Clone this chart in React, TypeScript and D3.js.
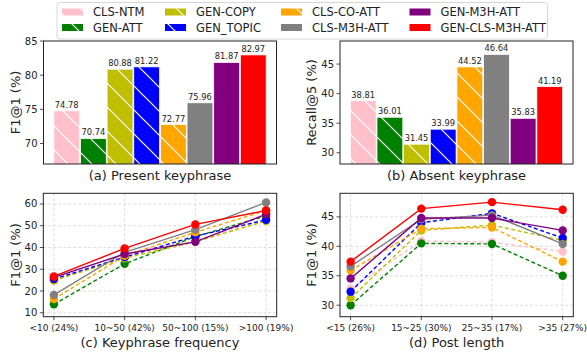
import React from "react";
import * as d3 from "d3";

const models = ["CLS-NTM", "GEN-ATT", "GEN-COPY", "GEN_TOPIC", "CLS-CO-ATT", "CLS-M3H-ATT", "GEN-M3H-ATT", "GEN-CLS-M3H-ATT"];
const colors = ["#FFC0CB", "#008000", "#BFBF00", "#0000FF", "#FFA500", "#808080", "#800080", "#FF0000"];
const hatched = [true, true, true, true, true, false, false, false];

const presentF1 = [74.78, 70.74, 80.88, 81.22, 72.77, 75.96, 81.87, 82.97];
const absentR5 = [38.81, 36.01, 31.45, 33.99, 44.52, 46.64, 35.83, 41.19];

const freqLabels = ["<10 (24%)", "10~50 (42%)", "50~100 (15%)", ">100 (19%)"];
const freqCLSNTM = [25.0, 35.6, 43.2, 52.6];
const freqGENATT = [13.9, 32.5, 45.0, 54.5];
const freqGENCOPY = [24.8, 35.1, 42.6, 52.2];
const freqGENTOPIC = [25.5, 35.6, 45.2, 52.7];
const freqCLSCOATT = [16.3, 36.2, 47.0, 57.0];
const freqCLSM3H = [18.2, 37.8, 48.2, 60.7];
const freqGENM3H = [26.3, 37.0, 42.6, 55.3];
const freqGENCLSM3H = [26.7, 39.6, 50.6, 57.0];

const lenLabels = ["<15 (26%)", "15~25 (30%)", "25~35 (17%)", ">35 (27%)"];
const lenCLSNTM = [32.8, 40.9, 40.7, 39.1];
const lenGENATT = [30.0, 40.5, 40.4, 35.0];
const lenGENCOPY = [31.2, 42.7, 43.6, 41.0];
const lenGENTOPIC = [32.3, 44.0, 45.6, 41.4];
const lenCLSCOATT = [35.9, 43.0, 43.2, 37.4];
const lenCLSM3H = [36.6, 44.6, 45.3, 40.4];
const lenGENM3H = [34.55, 44.8, 44.8, 42.7];
const lenGENCLSM3H = [37.4, 46.4, 47.5, 46.2];

const freqSeries = [freqCLSNTM, freqGENATT, freqGENCOPY, freqGENTOPIC, freqCLSCOATT, freqCLSM3H, freqGENM3H, freqGENCLSM3H];
const lenSeries = [lenCLSNTM, lenGENATT, lenGENCOPY, lenGENTOPIC, lenCLSCOATT, lenCLSM3H, lenGENM3H, lenGENCLSM3H];

const presentTicks = [70, 75, 80, 85];
const absentTicks = [30, 35, 40, 45];
const freqTicks = [10, 20, 30, 40, 50, 60];
const lenTicks = [30, 35, 40, 45];

const FONT = "DejaVu Sans, Verdana, sans-serif";
const TXT = "#222";

type BarProps = { left: number; right: number; top: number; bottom: number; domain: [number, number]; ticks: number[]; values: number[]; ylabel: string; ylabelX: number; title: string };

function BarPanel({ left, right, top, bottom, domain, ticks, values, ylabel, ylabelX, title }: BarProps) {
  const x = d3.scaleLinear().domain([-0.872, 7.872]).range([left, right]);
  const y = d3.scaleLinear().domain(domain).range([bottom, top]);
  const bw = (x(1) - x(0)) * 0.97;
  const id = `clip-${left}`;
  return (
    <g>
      <defs>
        <clipPath id={id}>
          <rect x={left} y={top} width={right - left} height={bottom - top} />
        </clipPath>
      </defs>
      <g clipPath={`url(#${id})`}>
        {values.map((v, i) => (
          <g key={i}>
            <rect x={x(i) - bw / 2} y={y(v)} width={bw} height={bottom - y(v) + 5} fill={colors[i]} stroke="white" strokeWidth={0.8} />
            {hatched[i] && <rect x={x(i) - bw / 2} y={y(v)} width={bw} height={bottom - y(v) + 5} fill="url(#hatch)" />}
          </g>
        ))}
      </g>
      {values.map((v, i) => (
        <text key={i} x={x(i)} y={y(v) - 3} textAnchor="middle" fontSize={8.3} fill={TXT} fontFamily={FONT}>
          {v.toFixed(2)}
        </text>
      ))}
      {ticks.map((t) => (
        <g key={t}>
          <line x1={left - 3.5} x2={left} y1={y(t)} y2={y(t)} stroke="#222" strokeWidth={0.8} />
          <text x={left - 6} y={y(t)} dy="0.35em" textAnchor="end" fontSize={10} fill={TXT} fontFamily={FONT}>{t}</text>
        </g>
      ))}
      <rect x={left} y={top} width={right - left} height={bottom - top} fill="none" stroke="#222" strokeWidth={1} />
      <text transform={`translate(${ylabelX},${(top + bottom) / 2}) rotate(-90)`} textAnchor="middle" dy="0.35em" fontSize={13} fill={TXT} fontFamily={FONT}>{ylabel}</text>
      <text x={(left + right) / 2} y={180} textAnchor="middle" fontSize={13} fill={TXT} fontFamily={FONT}>{title}</text>
    </g>
  );
}

type LineProps = { left: number; right: number; top: number; bottom: number; domain: [number, number]; ticks: number[]; series: number[][]; labels: string[]; ylabel: string; ylabelX: number; title: string };

function LinePanel({ left, right, top, bottom, domain, ticks, series, labels, ylabel, ylabelX, title }: LineProps) {
  const x = d3.scaleLinear().domain([-0.15, 3.15]).range([left, right]);
  const y = d3.scaleLinear().domain(domain).range([bottom, top]);
  const line = d3.line<number>().x((_, i) => x(i)).y((d) => y(d));
  return (
    <g>
      {ticks.map((t) => (
        <line key={"gy" + t} x1={left} x2={right} y1={y(t)} y2={y(t)} stroke="#d4d4d4" strokeWidth={0.8} strokeDasharray="3,2" />
      ))}
      {labels.map((_, i) => (
        <line key={"gx" + i} x1={x(i)} x2={x(i)} y1={top} y2={bottom} stroke="#d4d4d4" strokeWidth={0.8} strokeDasharray="3,2" />
      ))}
      {series.map((s, k) => (
        <g key={k}>
          <path d={line(s) || ""} fill="none" stroke={colors[k]} strokeWidth={1.4} strokeDasharray={hatched[k] ? "4,2.5" : undefined} />
          {s.map((v, i) => (
            <circle key={i} cx={x(i)} cy={y(v)} r={4.2} fill={colors[k]} />
          ))}
        </g>
      ))}
      {ticks.map((t) => (
        <g key={t}>
          <line x1={left - 3.5} x2={left} y1={y(t)} y2={y(t)} stroke="#222" strokeWidth={0.8} />
          <text x={left - 6} y={y(t)} dy="0.35em" textAnchor="end" fontSize={10} fill={TXT} fontFamily={FONT}>{t}</text>
        </g>
      ))}
      {labels.map((l, i) => (
        <g key={l}>
          <line x1={x(i)} x2={x(i)} y1={bottom} y2={bottom + 3.5} stroke="#222" strokeWidth={0.8} />
          <text x={x(i)} y={bottom + 14} textAnchor="middle" fontSize={9} fill={TXT} fontFamily={FONT}>{l}</text>
        </g>
      ))}
      <rect x={left} y={top} width={right - left} height={bottom - top} fill="none" stroke="#222" strokeWidth={1} />
      <text transform={`translate(${ylabelX},${(top + bottom) / 2}) rotate(-90)`} textAnchor="middle" dy="0.35em" fontSize={13} fill={TXT} fontFamily={FONT}>{ylabel}</text>
      <text x={(left + right) / 2} y={347} textAnchor="middle" fontSize={13} fill={TXT} fontFamily={FONT}>{title}</text>
    </g>
  );
}

function Legend() {
  const colX = [62, 165, 281, 409.5];
  const rowY = [12, 27.5];
  return (
    <g>
      <rect x={57} y={2.5} width={490.5} height={36.5} rx={3} fill="white" fillOpacity={0.85} stroke="#cccccc" strokeWidth={0.8} />
      {models.map((m, i) => {
        const c = Math.floor(i / 2);
        const r = i % 2;
        const px = colX[c];
        const py = rowY[r];
        return (
          <g key={m}>
            <rect x={px} y={py - 3.5} width={21} height={7} fill={colors[i]} />
            {hatched[i] && <rect x={px} y={py - 3.5} width={21} height={7} fill="url(#hatch)" />}
            <text x={px + 31} y={py} dy="0.35em" fontSize={11.5} fill={TXT} fontFamily={FONT}>{m}</text>
          </g>
        );
      })}
    </g>
  );
}

export default function App() {
  return (
    <svg width={587} height={355} style={{ position: "absolute", left: 0, top: 0, background: "white" }}>
      <defs>
        <pattern id="hatch" patternUnits="userSpaceOnUse" width={24} height={24}>
          <path d="M0,0 L24,24 M-2,22 L2,26 M22,-2 L26,2" stroke="white" strokeWidth={1.2} />
        </pattern>
      </defs>
      <rect width={587} height={355} fill="white" />
      <BarPanel left={43.5} right={276.5} top={41} bottom={164} domain={[67, 85]} ticks={presentTicks} values={presentF1} ylabel="F1@1 (%)" ylabelX={15} title="(a) Present keyphrase" />
      <BarPanel left={340} right={573} top={41} bottom={164} domain={[28.1, 48.9]} ticks={absentTicks} values={absentR5} ylabel="Recall@5 (%)" ylabelX={311.5} title="(b) Absent keyphrase" />
      <LinePanel left={43.3} right={276.7} top={193.3} bottom={316.7} domain={[8.2, 64.9]} ticks={freqTicks} series={freqSeries} labels={freqLabels} ylabel="F1@1 (%)" ylabelX={15} title="(c) Keyphrase frequency" />
      <LinePanel left={340} right={573.3} top={193.3} bottom={316.7} domain={[28.05, 49.0]} ticks={lenTicks} series={lenSeries} labels={lenLabels} ylabel="F1@1 (%)" ylabelX={311.5} title="(d) Post length" />
      <Legend />
    </svg>
  );
}
